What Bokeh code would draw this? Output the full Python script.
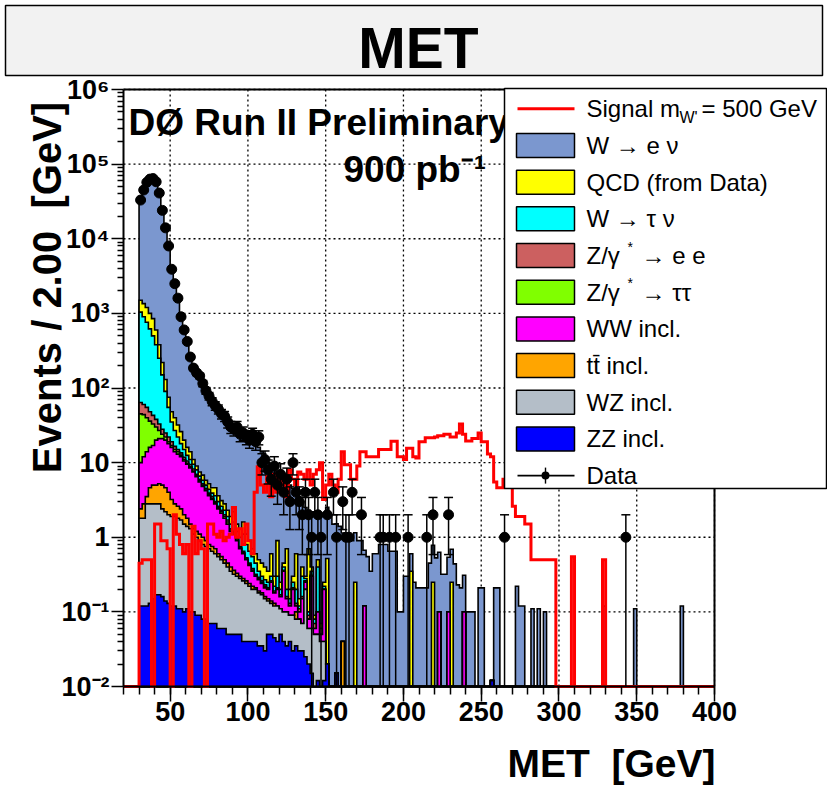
import math
from bokeh.plotting import figure
from bokeh.models import Range1d, FixedTicker, BoxAnnotation, Label, LinearAxis, LogAxis
from bokeh.embed import file_html
from bokeh.resources import INLINE

# ---------------- data (2 GeV bins, first bin starts at 30 GeV) ----------------
FIRST_EDGE = 30
BIN_W = 2
N_BINS = 185  # 30 .. 400 GeV

# bins 30..148 GeV (60 bins) per stacked component
zz_lo = [.12, .12, .12, .13, .15, .17, .17, .16, .14, .13,
         .12, .12, .11, .11, .10, .11, .10, .10, .09, .09,
         .08, .08, .07, .07, .07, .06, .06, .06, .05, .05,
         .05, .05, .05, .04, .04, .04, .04, .04, .035, .035,
         .03, .05, .05, .045, .04, .05, .04, .035, .04, .03,
         .035, .03, .03, .025, .02, .015, 0, .012, 0, .012]
wz_lo = [1.68, 1.68, 2.68, 2.67, 2.65, 2.63, 2.63, 2.24, 2.06, 1.87,
         1.78, 1.78, 1.69, 1.59, 1.4, 1.29, 1.2, 1.0, .91, .81,
         .72, .67, .63, .58, .53, .49, .44, .39, .35, .3,
         .27, .25, .23, .22, .2, .18, .16, .16, .145, .135,
         .12, .09, .08, .075, .08, .06, .06, .065, .05, .06,
         .045, .05, .04, .175, .04, .045, .05, .038, .04, .028]
tt_lo = [.6, 1.0, .7, 1.8, 2.2, 2.2, 2.4, 2.6, 2.4, 2.0,
         1.3, .9, .8, .7, .5, .4, .2, .2, .2, .2,
         .2, .15, .1, .1, .1, .05, .05, .05, .05, .05,
         .04, .03, .02, .02, .02, .02, .02, .01, .01, .01,
         .01, .01, .01, .01, 0, 0, 0, 0, 0, 0,
         .02, 0, 0, 0, 0, 0, 0, 0, 0, 0]
ww_lo = [7.6, 9.2, 10.5, 11.4, 12, 15, 15.8, 16, 15.4, 14,
         12.8, 11.2, 10.4, 9.6, 8.5, 7.7, 7, 6.2, 5.3, 4.4,
         3.8, 3.3, 2.8, 2.45, 2.1, 1.8, 1.55, 1.3, 1.05, .8,
         .74, .57, .4, .32, .24, .18, .13, .09, .08, .06,
         .05, .05, .11, .05, .08, .05, .25, .05, .03, .11,
         .02, .02, .08, .05, .02, .24, .01, .05, .01, .16]
ztt_lo = [35, 32, 26, 20, 16, 10, 6, 3, 2, 1,
          1, 1, 1, .6, .5, .3, .3, .2, .2, .2,
          .2, .1, .1, .1, .1, .1, .1, .1, .1, .05,
          .05, .05, .02, .02, .01, .01, .01, .01, .01, .01,
          .01, 0, 0, 0, 0, 0, 0, 0, 0, 0,
          0, 0, 0, 0, 0, 0, 0, 0, 0, 0]
zee_lo = [19, 16, 15, 12, 10, 8, 6, 4, 3, 3,
          2, 1.5, 1, .9, .8, .7, .6, .5, .3, .3,
          .2, .2, .2, .2, .1, .1, .1, .1, .1, .05,
          .05, .05, .03, .03, .02, .02, .02, .01, .01, .01,
          .01, .01, .01, .01, .01, .01, .01, .01, .01, .01,
          .01, .01, .01, .01, .01, .01, .01, 0, .01, 0]
wtn_lo = [976, 840, 705, 572, 457, 342, 217, 122, 65, 33,
          16, 10.5, 7, 4.5, 3.2, 2, 1.6, 1.3, 1.0, .6,
          .6, .5, .5, .4, .6, .4, .3, .3, .2, .2,
          .4, .2, .25, .45, .27, .2, .17, .13, .06, .04,
          .04, .04, .04, .03, .09, .03, .04, .04, .02, .04,
          .07, .01, .14, .02, .01, .04, .01, .3, 0, .02]
qcd_lo = [460, 450, 440, 380, 350, 220, 130, 70, 40, 20,
          13, 13, 10, 8, 5, 3.5, 3, 1.5, 1.0, .9,
          1.0, .8, .8, .7, 1.0, .6, .5, .5, .4, .4,
          .6, .3, .3, .5, .3, .25, .15, .15, .15, .15,
          .13, .1, .3, .08, .6, .05, .05, .5, .05, .05,
          .4, .03, .1, .02, .6, .05, .01, .1, .01, .03]
wev_lo = [31500, 44650, 55800, 62000, 63150, 56400, 40620, 23780, 13870, 7925,
          3952, 2460, 1568, 924, 600, 404, 266, 189, 151, 132.5,
          108, 86, 73, 61, 53, 48, 42, 39, 34, 30,
          28, 26.5, 24.7, 22.4, 21, 20, 19.3, 17.4, 15.5, 13.5,
          11.6, 9.65, 8.4, 7.7, 6.6, 6.75, 5.55, 4.8, 4.8, 4.2,
          3.4, 3.35, 2.6, 2.2, 1.6, 1.8, 2.0, 1.5, 1.93, 1.75]
# W -> e nu, bins 150..398 GeV (125 bins)
wev_tail = [2.0, 2.0, 1.5, 1.5, 1.4, 1.1, 1.0, 0.9, 0.9, 0.9,
            0.9, 0.9, 0.55, 0.55, 0.35, 0.6, 0.6, 0.8, 0.8, 0.8,
            0.65, 0.65, 0.65, 0.1, 0.1, 0.3, 0.3, 0.25, 0.25, 0.21,
            0.21, 0.21, 0.21, 0.45, 0.53, 0.53, 0.53, 0.32, 0.32, 0.44,
            0.44, 0.44, 0.23, 0.21, 0.21, 0.1, 0.1, 0.1, 0, 0.21,
            0.21, 0, 0, 0, 0.21, 0.21, 0, 0, 0, 0,
            0, 0.22, 0.12, 0.12, 0, 0, 0.11, 0, 0.11, 0,
            0.1, 0, 0, 0, 0, 0, 0, 0, 0, 0,
            0, 0, 0, 0, 0, 0, 0, 0, 0, 0.12,
            0, 0, 0, 0, 0, 0, 0, 0, 0, 0.11,
            0, 0, 0, 0, 0, 0, 0, 0, 0, 0,
            0, 0, 0, 0, 0.12, 0, 0, 0, 0, 0,
            0, 0, 0, 0, 0]
# isolated small entries above 150 GeV: (bin start, value)
qcd_spikes = [(150, 0.5), (168, 0.25), (204, 0.35), (218, 0.25), (230, 0.25)]
ww_spikes = [(174, 0.12), (222, 0.1), (228, 0.1), (238, 0.1)]
tt_spikes = [(160, 0.04)]
zz_spikes = [(150, 0.02), (156, 0.015), (256, 0.012)]

# signal W' (500 GeV), bins 30..296 GeV (134 bins)
signal_lo = [.45, .5, .5, .5, 0, 1.5, 1.5, .9, .9, .7,
             0, 2.0, 1.1, .8, .6, .8, 0, 1.4, .6, .9,
             .7, 0, 1.5, 1.5, 1.1, 1.0, 1.2, .9, 1.0, 1.1,
             2.5, 1.0, 1.3, .8, 1.5, .9, .6, 4, 8.8, 5,
             4, 6.5, 3.5, 7, 4, 7.5, 5, 3.5, 8, 6,
             5, 7.5, 7, 6, 8, 5, 7, 8, 10, 3.2,
             5, 7, 5, 4, 6, 14, 9.4, 9.4, 6, 6,
             9, 14, 14, 12, 12, 12, 12, 15, 15, 15,
             15, 19.4, 19.4, 12, 12, 11, 15.6, 15.6, 12, 11.5,
             19, 19, 21.6, 21.6, 21.6, 22, 23, 23, 24, 24,
             22, 22, 25, 33, 24, 19.5, 19.5, 21, 21, 25,
             19, 19, 13, 12, 5.5, 4.6, 4.6, 6, 6, 6,
             2.6, 1.9, 1.9, 1.9, 1.5, 1.5, .5, .5, .5, .5,
             .5, .5, .5, .5]
signal_spikes = [(308, 0.55), (328, 0.5)]

# data counts, bins 30..148 GeV (60 bins), then isolated entries
data_lo = [33000, 45000, 57000, 63000, 64000, 58000, 41000, 24000, 14000, 8000,
           3900, 2500, 1600, 900, 600, 420, 260, 185, 160, 145,
           115, 92, 78, 66, 58, 52, 45, 42, 35, 30,
           28, 30, 24, 25, 22, 20, 24, 19, 22, 10,
           11, 8, 6, 9, 5, 7, 4, 6, 3, 10,
           4, 3, 2, 4, 2, 1, 4, 2, 1, 0]
data_tail = [(150, 2), (154, 4), (156, 1), (160, 3), (162, 1), (164, 1), (166, 4),
             (172, 2), (184, 1), (186, 1), (190, 1), (194, 1), (202, 1), (214, 1),
             (218, 2), (228, 2), (264, 1), (342, 1)]

colors = ["#0000ff", "#b4bec8", "#ffa500", "#ff00ff", "#80ff00",
          "#cc6060", "#00ffff", "#ffff00", "#7b97cf"]
x_ticks = [50, 100, 150, 200, 250, 300, 350, 400]
y_ticks = [0.01, 0.1, 1.0, 10.0, 100.0, 1000.0, 10000.0, 100000.0, 1000000.0]
y_tick_text = ["10⁻²", "10⁻¹", "1", "10", "10²", "10³", "10⁴", "10⁵", "10⁶"]

# ---------------- assemble ----------------
def full(lo, spikes=()):
    arr = [float(v) for v in lo] + [0.0] * (N_BINS - len(lo))
    for b, v in spikes:
        arr[(b - FIRST_EDGE) // BIN_W] += v
    return arr

assert len(wev_lo) == 60 and len(wev_tail) == 125 and len(signal_lo) == 134
comps = [full(zz_lo, zz_spikes), full(wz_lo), full(tt_lo, tt_spikes), full(ww_lo, ww_spikes),
         full(ztt_lo), full(zee_lo), full(wtn_lo), full(qcd_lo, qcd_spikes),
         [float(v) for v in wev_lo + wev_tail]]
signal = full(signal_lo, signal_spikes)
data = full(data_lo, data_tail)

edges = [FIRST_EDGE + BIN_W * i for i in range(N_BINS + 1)]
X0, X1, Y0, Y1 = 20, 400, 0.01, 1e6
FLOOR = Y0

def step(vals, start=None):
    xs, ys = [], []
    if start is not None:
        xs += [start, edges[0]]
        ys += [FLOOR, FLOOR]
    else:
        xs.append(edges[0]); ys.append(FLOOR)
    for i, v in enumerate(vals):
        v = max(v, FLOOR)
        xs += [edges[i], edges[i + 1]]
        ys += [v, v]
    xs.append(edges[-1]); ys.append(FLOOR)
    return xs, ys

# ---------------- figure: the frame covers the whole canvas ----------------
W, H = 827, 786
FL, FR, FT, FB = 123, 714, 89, 686   # plot box in canvas pixels

def dx(px):
    return X0 + (px - FL) * (X1 - X0) / (FR - FL)

def dy(py):
    return 10 ** (math.log10(Y0) + (FB - py) * (math.log10(Y1) - math.log10(Y0)) / (FB - FT))

p = figure(width=W, height=H, x_range=Range1d(dx(0), dx(W)), y_range=Range1d(dy(H), dy(0)),
           y_axis_type="log", x_axis_location=None, y_axis_location=None,
           output_backend="svg", toolbar_location=None, min_border=0)
p.title.visible = False
p.background_fill_color = "white"
p.border_fill_color = "white"
p.outline_line_color = None
p.xgrid.visible = False
p.ygrid.visible = False

FONT = "Liberation Sans"
xaxis = LinearAxis(fixed_location=Y0, bounds=(X0, X1),
                   ticker=FixedTicker(ticks=x_ticks, minor_ticks=list(range(20, 401, 10))))
yaxis = LogAxis(fixed_location=X0, bounds=(Y0, Y1),
                ticker=FixedTicker(ticks=y_ticks,
                                   minor_ticks=[k * 10.0 ** e for e in range(-2, 6) for k in range(2, 10)]))
yaxis.major_label_overrides = dict(zip(y_ticks, y_tick_text))
for ax in (xaxis, yaxis):
    ax.axis_line_width = 2
    ax.axis_line_color = "black"
    ax.major_tick_line_width = 1.5
    ax.minor_tick_line_width = 1.5
    ax.major_tick_in = 0
    ax.minor_tick_in = 0
    ax.major_label_text_font = FONT
    ax.major_label_text_font_style = "bold"
    ax.major_label_text_font_size = "27px"
    ax.major_label_text_color = "black"
xaxis.major_tick_out = 15
xaxis.minor_tick_out = 8
xaxis.major_label_standoff = 0
yaxis.major_tick_out = 12
yaxis.minor_tick_out = 6
yaxis.major_label_standoff = 2
p.add_layout(xaxis, "below")
p.add_layout(yaxis, "left")

# dotted grid at the major ticks
p.segment(x0=x_ticks, y0=[Y0] * len(x_ticks), x1=x_ticks, y1=[Y1] * len(x_ticks),
          line_color="black", line_width=1.3, line_dash="2 3")
p.segment(x0=[X0] * len(y_ticks), y0=y_ticks, x1=[X1] * len(y_ticks), y1=y_ticks,
          line_color="black", line_width=1.3, line_dash="2 3")

# stacked histograms, drawn from the total down to the bottom component
cum = []
run = [0.0] * N_BINS
for c in comps:
    run = [a + b for a, b in zip(run, c)]
    cum.append(run)
for k in range(len(comps) - 1, -1, -1):
    xs, ys = step(cum[k])
    p.patch(xs, ys, fill_color=colors[k], line_color="black", line_width=1.6,
            line_join="miter")

# signal
sx, sy = step(signal, start=X0)
p.line(sx, sy, line_color="#ff0000", line_width=3, line_join="miter")

# data points with Poisson errors
cx, cy, lo_, hi_ = [], [], [], []
for i, n in enumerate(data):
    if n > 0:
        c = edges[i] + BIN_W / 2
        e = math.sqrt(n)
        cx.append(c); cy.append(n)
        hi_.append(n + e)
        lo_.append(max(n - e, FLOOR))
p.segment(x0=cx, y0=lo_, x1=cx, y1=hi_, line_color="black", line_width=1.5)
p.scatter(cx, hi_, marker="dash", size=9, line_color="black", line_width=1.5)
lcx = [x for x, l in zip(cx, lo_) if l > FLOOR]
lcy = [l for l in lo_ if l > FLOOR]
p.scatter(lcx, lcy, marker="dash", size=9, line_color="black", line_width=1.5)
p.scatter(cx, cy, marker="circle", size=10, fill_color="black", line_color="black")

# plot box (top and right edges)
p.line([X0, X1, X1], [Y1, Y1, Y0], line_color="black", line_width=2)

def label(px, py, text, size, bold=False, align="left", angle=0.0):
    # py is the vertical middle of the capitals
    p.add_layout(Label(x=dx(px), y=dy(py), text=text, text_font=FONT,
                       text_font_style="bold" if bold else "normal",
                       text_font_size=f"{size}px", text_color="black",
                       text_align=align, text_baseline="middle", angle=angle))

def box(l, t, r, b, fill, line=True, radius=0):
    p.add_layout(BoxAnnotation(left=dx(l), right=dx(r), top=dy(t), bottom=dy(b),
                               fill_color=fill, fill_alpha=1,
                               line_color="black", line_width=1.5,
                               line_alpha=1 if line else 0, border_radius=radius))

# text inside the plot
label(128, 121.5, "DØ Run II Preliminary", 37, bold=True)
label(343, 169, "900 pb⁻¹", 37, bold=True)

# legend
box(504, 88, 826, 488, "white")
row0, drow = 108.3, 36.68
leg_order = [8, 7, 6, 5, 4, 3, 2, 1, 0]
leg_text = {8: "W → e ν", 7: "QCD (from Data)", 6: "W → τ ν", 5: "Z/γ", 4: "Z/γ",
            3: "WW incl.", 2: "tt̄ incl.", 1: "WZ incl.", 0: "ZZ incl."}
box(517, row0 - 1.5, 574, row0 + 1.5, "#ff0000", line=False)
label(586, row0, "Signal m", 24)
label(679, row0 + 9, "W'", 16)
label(701, row0, "= 500 GeV", 24)
for j, k in enumerate(leg_order):
    yc = row0 + drow * (j + 1)
    box(516, yc - 12, 574, yc + 12, colors[k])
    label(586, yc, leg_text[k], 24)
    if k in (5, 4):
        label(627, yc - 9, "*", 14)
        label(641, yc, "→ e e" if k == 5 else "→ ττ", 24)
yd = row0 + drow * 10
box(517, yd - 0.8, 574, yd + 0.8, "black", line=False)
box(544.3, yd - 8, 545.7, yd + 8, "black", line=False)
box(541, yd - 4, 549, yd + 4, "black", line=False, radius=4)
label(586, yd, "Data", 24)

# title box
box(5, 5, 822, 75, "#f2f2f2")
label(418, 47.5, "MET", 57, bold=True, align="center")

# axis titles (non-breaking spaces keep the double gap)
label(715, 763, "MET\u00a0\u00a0[GeV]", 39, bold=True, align="right")
label(46, 287, "Events / 2.00\u00a0\u00a0[GeV]", 40, bold=True, align="center", angle=math.pi / 2)

open("out.html", "w").write(file_html(p, INLINE))
